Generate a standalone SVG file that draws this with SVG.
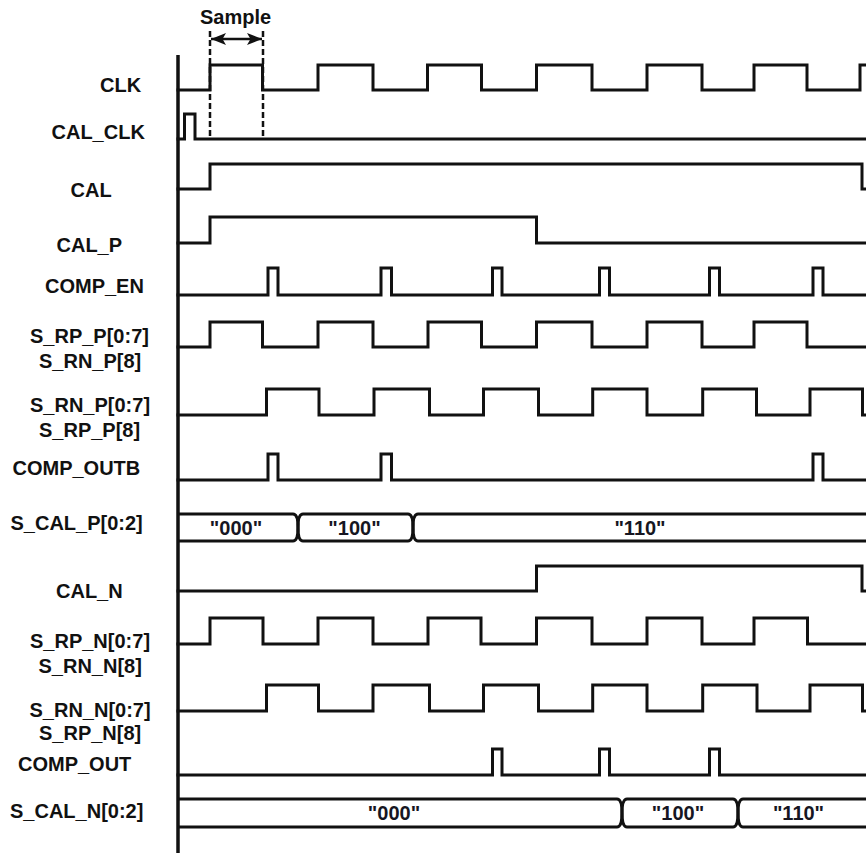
<svg xmlns="http://www.w3.org/2000/svg" width="866" height="853" viewBox="0 0 866 853">
<style>
.sig{fill:none;stroke:#111;stroke-width:3;stroke-linejoin:miter;stroke-linecap:square}
.bus{fill:none;stroke:#111;stroke-width:3;stroke-linejoin:round}
.lbl{font-family:"Liberation Sans",Arial,sans-serif;font-weight:bold;font-size:20px;fill:#111}
.val{font-family:"Liberation Sans",Arial,sans-serif;font-weight:bold;font-size:20px;fill:#161622;text-anchor:middle}
.dash{stroke:#111;stroke-width:2.5;stroke-dasharray:6 3;fill:none}
</style>
<defs>
<marker id="ah" viewBox="0 0 15 12" refX="15" refY="6" markerWidth="15" markerHeight="12" markerUnits="userSpaceOnUse" orient="auto-start-reverse">
<path d="M0,0 L15,6 L0,12 L3.5,6 z" fill="#111"/>
</marker>
</defs>
<rect width="866" height="853" fill="#fff"/>

<g id="axis"><line x1="178" y1="55" x2="178" y2="853" stroke="#111" stroke-width="3.5"/></g>

<g id="CLK">
<text class="lbl" x="100" y="91.5">CLK</text>
<path class="sig" d="M178,90 H210 V65 H262.5 V90 H318 V65 H373 V90 H427.5 V65 H481.5 V90 H536.5 V65 H592 V90 H647 V65 H702 V90 H754 V65 H807 V90 H860 V65 H866"/>
</g>
<g id="CAL_CLK">
<text class="lbl" x="51.5" y="139">CAL_CLK</text>
<path class="sig" d="M178,139 H184.5 V114 H195 V139 H866"/>
</g>
<g id="CAL">
<text class="lbl" x="70.5" y="197">CAL</text>
<path class="sig" d="M178,189 H210 V164 H862 V189 H866"/>
</g>
<g id="CAL_P">
<text class="lbl" x="56.5" y="251.5">CAL_P</text>
<path class="sig" d="M178,243 H210 V217 H536.5 V243 H866"/>
</g>
<g id="COMP_EN">
<text class="lbl" x="45" y="293">COMP_EN</text>
<path class="sig" d="M178,295 H268 V268 H278 V295 H381 V268 H391.5 V295 H492.5 V268 H502 V295 H599.5 V268 H609.5 V295 H709.5 V268 H719.5 V295 H813 V268 H823 V295 H866"/>
</g>
<g id="S_RP_P">
<text class="lbl" x="30" y="343">S_RP_P[0:7]</text>
<text class="lbl" x="39" y="368">S_RN_P[8]</text>
<path class="sig" d="M178,347 H210 V322 H262.5 V347 H318 V322 H373 V347 H428 V322 H481.5 V347 H536.5 V322 H592 V347 H647 V322 H702 V347 H754 V322 H807 V347 H866"/>
</g>
<g id="S_RN_P">
<text class="lbl" x="30" y="411.5">S_RN_P[0:7]</text>
<text class="lbl" x="39" y="436.5">S_RP_P[8]</text>
<path class="sig" d="M178,415 H266.5 V389 H319 V415 H374 V389 H429.5 V415 H483.5 V389 H538.5 V415 H592.7 V389 H647 V415 H702.7 V389 H756.5 V415 H810 V389 H862.5 V415 H866"/>
</g>
<g id="COMP_OUTB">
<text class="lbl" x="12.5" y="475">COMP_OUTB</text>
<path class="sig" d="M178,480 H268 V454 H278 V480 H381 V454 H391.5 V480 H813 V454 H823 V480 H866"/>
</g>
<g id="S_CAL_P">
<text class="lbl" x="10.5" y="530">S_CAL_P[0:2]</text>
<path class="bus" d="M178,514 H293 Q298,514 298,527.5 Q298,541 293,541 H178"/>
<path class="bus" d="M303,514 H408 Q413,514 413,527.5 Q413,541 408,541 H303 Q298,541 298,527.5 Q298,514 303,514 Z"/>
<path class="bus" d="M866,514 H418 Q413,514 413,527.5 Q413,541 418,541 H866"/>
<text class="val" x="236" y="535">"000"</text>
<text class="val" x="354.5" y="535">"100"</text>
<text class="val" x="640" y="534.5">"110"</text>
</g>
<g id="CAL_N">
<text class="lbl" x="56" y="598">CAL_N</text>
<path class="sig" d="M178,591 H536.5 V566 H862 V591 H866"/>
</g>
<g id="S_RP_N">
<text class="lbl" x="30" y="648">S_RP_N[0:7]</text>
<text class="lbl" x="38.5" y="673">S_RN_N[8]</text>
<path class="sig" d="M178,644 H210 V618 H263 V644 H318 V618 H373 V644 H428 V618 H481 V644 H536.5 V618 H592 V644 H647 V618 H702 V644 H754 V618 H807.5 V644 H866"/>
</g>
<g id="S_RN_N">
<text class="lbl" x="29.5" y="716.5">S_RN_N[0:7]</text>
<text class="lbl" x="39" y="740">S_RP_N[8]</text>
<path class="sig" d="M178,711 H266.5 V685 H318.5 V711 H373 V685 H429.5 V711 H483.5 V685 H538.5 V711 H592.7 V685 H647 V711 H702.7 V685 H757 V711 H810 V685 H862.5 V711 H866"/>
</g>
<g id="COMP_OUT">
<text class="lbl" x="18" y="771">COMP_OUT</text>
<path class="sig" d="M178,775 H492.5 V749 H502 V775 H599.5 V749 H609.5 V775 H709.5 V749 H719.5 V775 H866"/>
</g>
<g id="S_CAL_N">
<text class="lbl" x="10" y="818">S_CAL_N[0:2]</text>
<path class="bus" d="M178,799 H617 Q622,799 622,813 Q622,827 617,827 H178"/>
<path class="bus" d="M627,799 H733 Q738,799 738,813 Q738,827 733,827 H627 Q622,827 622,813 Q622,799 627,799 Z"/>
<path class="bus" d="M866,799 H743 Q738,799 738,813 Q738,827 743,827 H866"/>
<text class="val" x="394" y="820">"000"</text>
<text class="val" x="678" y="820">"100"</text>
<text class="val" x="798.5" y="820">"110"</text>
</g>

<g id="connectors">
<line class="dash" x1="210" y1="31" x2="210" y2="137"/>
<line class="dash" x1="263" y1="31" x2="263" y2="137"/>
<line x1="211" y1="39" x2="262" y2="39" stroke="#111" stroke-width="2.5" marker-start="url(#ah)" marker-end="url(#ah)"/>
</g>
<g id="sample-label"><text class="lbl" x="200" y="24">Sample</text></g>
</svg>
